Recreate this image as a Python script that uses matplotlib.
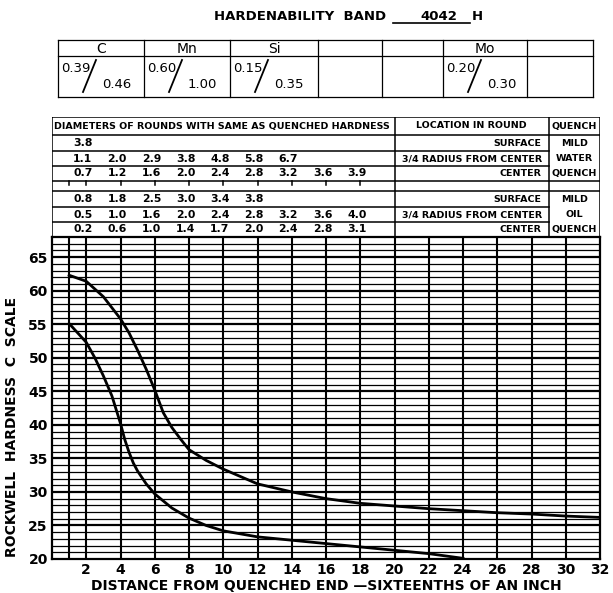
import matplotlib.pyplot as plt
import numpy as np

# hardenability band 4042 H (1/16 in vs HRC)
dist_max = [1, 2, 3, 4, 4.5, 5, 5.5, 6, 6.5, 7, 7.5, 8, 9, 10, 12, 14, 16, 18, 20, 22, 24, 26, 28, 30, 32]
hrc_max = [62.3, 61.4, 59.1, 55.8, 53.7, 51.1, 48.3, 45.2, 41.8, 39.6, 37.9, 36.3, 34.7, 33.4, 31.2,
           30.0, 29.0, 28.3, 27.9, 27.5, 27.2, 26.9, 26.7, 26.4, 26.2]
dist_min = [1, 2, 2.5, 3, 3.5, 4, 4.25, 4.5, 4.75, 5, 5.5, 6, 7, 8, 9, 10, 12, 14, 16, 18, 20, 22, 24]
hrc_min = [55.1, 52.3, 50.0, 47.3, 44.3, 40.2, 37.8, 35.9, 34.3, 33.1, 31.2, 29.7, 27.6, 26.1,
           25.0, 24.2, 23.3, 22.8, 22.3, 21.8, 21.3, 20.8, 20.1]

# chemistry
elements = ['C', 'Mn', 'Si', '', '', 'Mo', '']
chem_min = ['0.39', '0.60', '0.15', '', '', '0.20', '']
chem_max = ['0.46', '1.00', '0.35', '', '', '0.30', '']

# diameters of rounds with same as-quenched hardness
water_rows = [['3.8'],
              ['1.1', '2.0', '2.9', '3.8', '4.8', '5.8', '6.7'],
              ['0.7', '1.2', '1.6', '2.0', '2.4', '2.8', '3.2', '3.6', '3.9']]
oil_rows = [['0.8', '1.8', '2.5', '3.0', '3.4', '3.8'],
            ['0.5', '1.0', '1.6', '2.0', '2.4', '2.8', '3.2', '3.6', '4.0'],
            ['0.2', '0.6', '1.0', '1.4', '1.7', '2.0', '2.4', '2.8', '3.1']]
locations = ['SURFACE', '3/4 RADIUS FROM CENTER', 'CENTER']
water_quench = ['MILD', 'WATER', 'QUENCH']
oil_quench = ['MILD', 'OIL', 'QUENCH']

W, H = 613, 593
fig = plt.figure(figsize=(W / 100, H / 100), dpi=100)

# ---- overlay in pixel coords for title and chemistry table
ov = fig.add_axes([0, 0, 1, 1])
ov.set_xlim(0, W)
ov.set_ylim(H, 0)
ov.axis('off')

ov.text(386, 17, 'HARDENABILITY  BAND', ha='right', va='center', fontsize=9.5,
        fontweight='bold')
ov.text(420, 17, '4042', ha='left', va='center', fontsize=9.5, fontweight='bold')
ov.text(472, 17, 'H', ha='left', va='center', fontsize=9.5, fontweight='bold')
ov.plot([393, 470], [23, 23], color='black', lw=1.2)

cols = [58, 144, 230, 318, 382, 443, 527, 593]
top, mid, bot = 40, 56, 97
for yy in (top, mid, bot):
    ov.plot([cols[0], cols[-1]], [yy, yy], color='black', lw=0.9)
for xx in cols:
    ov.plot([xx, xx], [top, bot], color='black', lw=0.9)
for i, el in enumerate(elements):
    x0, x1 = cols[i], cols[i + 1]
    ov.text((x0 + x1) / 2, (top + mid) / 2 + 1, el, ha='center', va='center', fontsize=10)
    if chem_min[i]:
        ov.text(x0 + 3, 69, chem_min[i], ha='left', va='center', fontsize=9.5)
        ov.plot([x0 + 25, x0 + 38], [92, 60], color='black', lw=1.3)
        ov.text(x0 + 44, 85, chem_max[i], ha='left', va='center', fontsize=9.5)

# ---- main chart
ax = fig.add_axes([52 / W, (H - 559) / H, 548 / W, 322 / H])
ax.set_xlim(0, 32)
ax.set_ylim(20, 68)
for v in range(21, 68):
    ax.axhline(v, color='black', lw=1.6 if v % 5 == 0 else 0.9, zorder=1)
for v in [1] + list(range(2, 32, 2)):
    ax.axvline(v, color='black', lw=1.5, zorder=1)
ax.plot(dist_max, hrc_max, color='black', lw=2, zorder=3)
ax.plot(dist_min, hrc_min, color='black', lw=2, zorder=3)

ax.set_xticks(range(2, 33, 2))
ax.set_yticks(range(20, 66, 5))
ax.tick_params(length=0, labelsize=10, pad=3)
for t in ax.get_xticklabels() + ax.get_yticklabels():
    t.set_fontweight('bold')
for s in ax.spines.values():
    s.set_linewidth(1.6)
ax.set_xlabel('DISTANCE FROM QUENCHED END \u2014SIXTEENTHS OF AN INCH', fontsize=10,
              fontweight='bold', labelpad=1)
ax.set_ylabel('ROCKWELL  HARDNESS  C  SCALE', fontsize=10, fontweight='bold', labelpad=4)
ax.yaxis.set_label_coords(-0.06, 0.41)

# ---- diameter / location table, sharing the chart's x scale
tb = fig.add_axes([52 / W, (H - 237) / H, 548 / W, 120 / H], sharex=ax)
tb.set_ylim(237, 117)
tb.axis('off')
lk = dict(color='black', lw=1.1)
tb.plot([0, 32, 32, 0, 0], [117, 117, 237, 237, 117], **lk)
tb.plot([0, 32], [135, 135], **lk)
tb.plot([20, 20], [117, 237], **lk)
tb.plot([29, 29], [117, 237], **lk)
for yy in (151, 166, 207, 222):
    tb.plot([0, 29], [yy, yy], **lk)
for yy in (181, 191):
    tb.plot([0, 32], [yy, yy], **lk)
for xx in [1] + list(range(2, 20, 2)):
    tb.plot([xx, xx], [181, 185], **lk)

tb.text(0.1, 126, 'DIAMETERS OF ROUNDS WITH SAME AS QUENCHED HARDNESS', ha='left',
        va='center', fontsize=6.8, fontweight='bold')
tb.text(24.5, 126, 'LOCATION IN ROUND', ha='center', va='center', fontsize=6.8,
        fontweight='bold')
tb.text(30.5, 126, 'QUENCH', ha='center', va='center', fontsize=6.8, fontweight='bold')

row_mid_water = [143, 158.5, 173.5]
row_mid_oil = [199, 214.5, 229.5]
for rows, mids, quench in ((water_rows, row_mid_water, water_quench),
                           (oil_rows, row_mid_oil, oil_quench)):
    for vals, ym, loc, q in zip(rows, mids, locations, quench):
        for k, v in enumerate(vals):
            tb.text(2 * (k + 1) - 0.2, ym, v, ha='center', va='center', fontsize=7.8,
                    fontweight='bold')
        if loc == '3/4 RADIUS FROM CENTER':
            tb.text(24.5, ym, loc, ha='center', va='center', fontsize=6.8, fontweight='bold')
        else:
            tb.text(28.6, ym, loc, ha='right', va='center', fontsize=6.8, fontweight='bold')
        tb.text(30.5, ym, q, ha='center', va='center', fontsize=6.8, fontweight='bold')

fig.savefig('out.png', dpi=100)
